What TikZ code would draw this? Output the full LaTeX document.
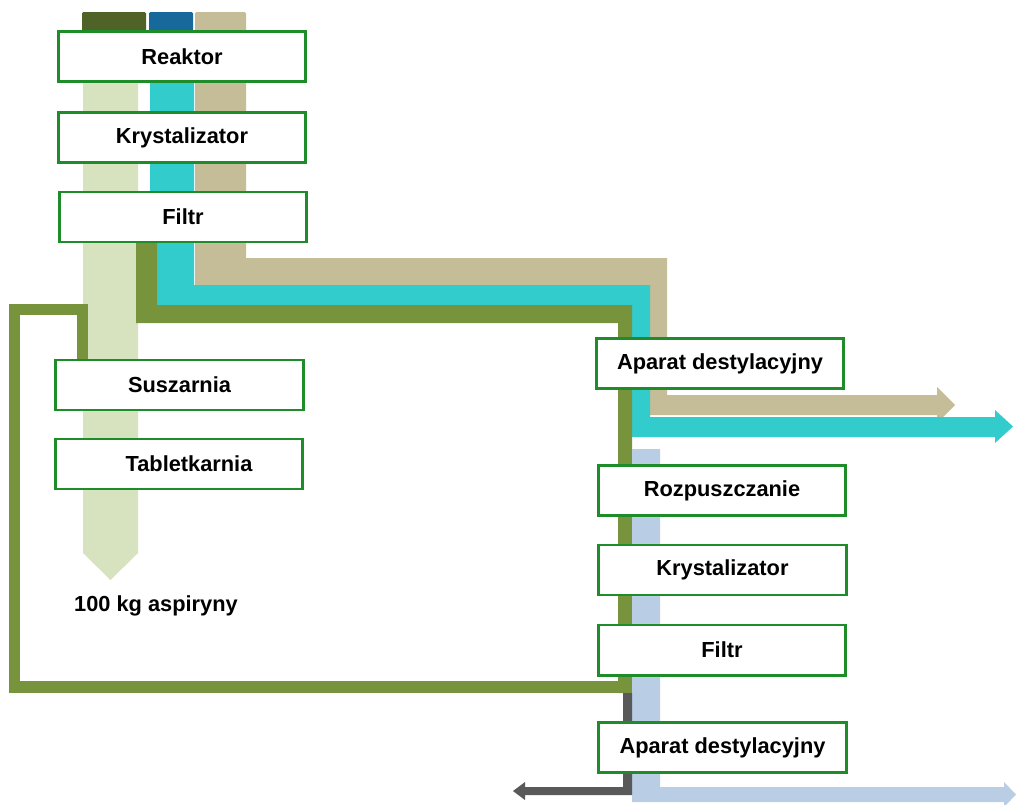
\documentclass[tikz,border=0pt]{standalone}
\usepackage{fontspec}
\setmainfont{Liberation Sans}
\definecolor{boxgreen}{RGB}{30,140,40}
\definecolor{palegreen}{RGB}{215,226,190}
\definecolor{streamcyan}{RGB}{51,204,204}
\definecolor{streamtan}{RGB}{196,189,151}
\definecolor{streamolive}{RGB}{119,147,60}
\definecolor{tabgreen}{RGB}{79,98,40}
\definecolor{tabblue}{RGB}{23,105,155}
\definecolor{streamblue}{RGB}{185,205,229}
\definecolor{streamgray}{RGB}{89,89,89}

\begin{document}
\begin{tikzpicture}[x=0.025cm,y=-0.025cm]
\tikzstyle{unit}=[draw=boxgreen,line width=2.1pt,fill=white,minimum width=6.18cm,minimum height=1.25cm,inner sep=0pt,font=\fontsize{15.5}{18}\selectfont\bfseries]
\useasboundingbox [fill=white] (0,0) rectangle (1016,804);
\fill [tabgreen,rounded corners=1pt] (82,12) rectangle (146,34);
\fill [tabblue,rounded corners=1pt] (149,12) rectangle (193,34);
\fill [streamtan,rounded corners=1pt] (195,12) rectangle (246,34);
\fill [palegreen] (83,30) -- (138,30) -- (138,553) -- (110.5,580) -- (83,553) -- cycle;
\fill [streamtan] (195,30) -- (246,30) -- (246,258) -- (667,258) -- (667,395) -- (937,395) -- (937,387) -- (955,405) -- (937,423) -- (937,415) -- (650,415) -- (650,285) -- (195,285) -- cycle;
\fill [streamcyan] (150,30) -- (194,30) -- (194,285) -- (650,285) -- (650,417) -- (995,417) -- (995,410) -- (1013,426.5) -- (995,443) -- (995,437) -- (632,437) -- (632,305) -- (157,305) -- (157,243) -- (150,243) -- cycle;
\fill [streamolive] (136,230) -- (157,230) -- (157,305) -- (632,305) -- (632,693) -- (618,693) -- (618,323) -- (136,323) -- cycle;
\draw [streamolive,line width=0.29cm,line join=miter] (632,687) -| (14.5,309.5) -| (82.5,360);
\fill [streamblue] (632,449) -- (660,449) -- (660,787) -- (1004,787) -- (1004,782) -- (1016,794.5) -- (1004,807) -- (1004,802) -- (632,802) -- cycle;
\fill [streamgray] (623,693) -- (632,693) -- (632,795) -- (525,795) -- (525,800) -- (513,791) -- (525,782) -- (525,787) -- (623,787) -- cycle;
\node [unit] (reaktor) at (182,56.5) {Reaktor};
\node [unit] (kryst1) at (182,137.5) {Krystalizator};
\node [unit] (filtr1) at (183,217) {Filtr};
\node [unit] (suszarnia) at (179.5,385) {Suszarnia};
\node [unit] (tablet) at (179,464) {\hspace{0.5cm}Tabletkarnia};
\node [unit] (dest1) at (720,363.5) {Aparat destylacyjny};
\node [unit] (rozp) at (722,490.5) {Rozpuszczanie};
\node [unit] (kryst2) at (722.5,570) {Krystalizator};
\node [unit] (filtr2) at (722,650) {Filtr};
\node [unit] (dest2) at (722.5,747.5) {Aparat destylacyjny};
\node [font=\fontsize{15.5}{18}\selectfont\bfseries] (wynik) at (156,606) {100 kg aspiryny};
\end{tikzpicture}
\end{document}
